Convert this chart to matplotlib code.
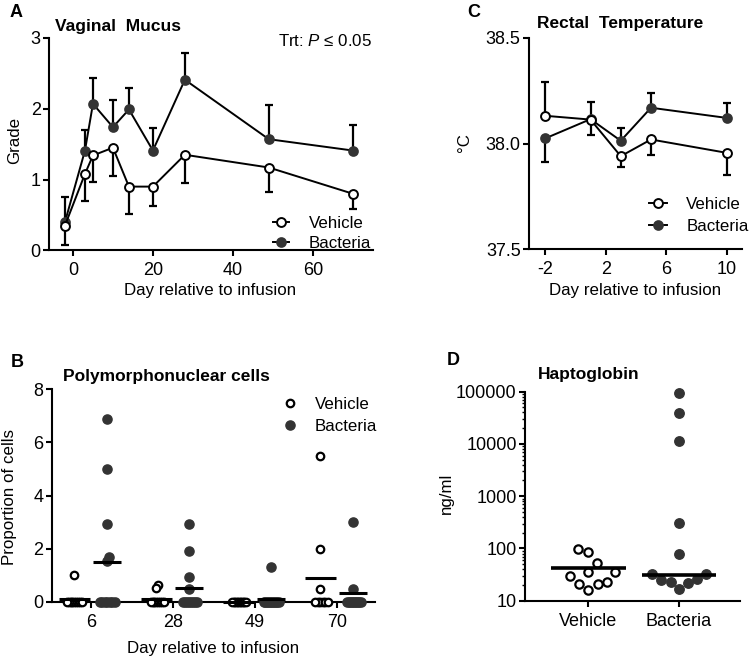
import numpy as np
import matplotlib
matplotlib.use('Agg')
import matplotlib.pyplot as plt
from matplotlib.lines import Line2D
from matplotlib.ticker import FixedLocator, LogLocator, NullFormatter, FuncFormatter

plt.rcParams['font.family'] = ['Liberation Sans', 'DejaVu Sans']
plt.rcParams['mathtext.fontset'] = 'custom'
plt.rcParams['mathtext.it'] = 'Liberation Sans:italic'
plt.rcParams['mathtext.rm'] = 'Liberation Sans'
plt.rcParams['axes.unicode_minus'] = False

# ---------------- data ----------------
# A: vaginal mucus grade
mucus_days = [-2, 3, 5, 10, 14, 20, 28, 49, 70]
mucus_vehicle = [0.35, 1.08, 1.34, 1.45, 0.90, 0.90, 1.35, 1.17, 0.80]
mucus_vehicle_err_low = [0.28, 0.38, 0.37, 0.40, 0.39, 0.28, 0.40, 0.35, 0.22]
mucus_bacteria = [0.40, 1.41, 2.07, 1.74, 1.99, 1.41, 2.41, 1.57, 1.41]
mucus_bacteria_err_high = [0.35, 0.29, 0.37, 0.38, 0.31, 0.32, 0.38, 0.49, 0.36]

# C: rectal temperature
temp_days = [-2, 1, 3, 5, 10]
temp_vehicle = [38.131, 38.113, 37.940, 38.019, 37.956]
temp_vehicle_err_low = [0.0, 0.074, 0.050, 0.071, 0.106]
temp_vehicle_err_high = [0.162, 0.0, 0.0, 0.0, 0.0]
temp_bacteria = [38.024, 38.115, 38.013, 38.169, 38.121]
temp_bacteria_err_low = [0.113, 0.0, 0.0, 0.0, 0.0]
temp_bacteria_err_high = [0.0, 0.082, 0.058, 0.070, 0.071]

# B: polymorphonuclear cells (proportion of cells)
pmn_days = ['6', '28', '49', '70']
pmn_vehicle = [
    [1.0, 0, 0, 0, 0, 0, 0, 0, 0, 0],
    [0.63, 0.5, 0, 0, 0, 0, 0, 0, 0, 0],
    [0, 0, 0, 0, 0, 0, 0, 0, 0, 0],
    [5.5, 1.98, 0.46, 0, 0, 0, 0, 0, 0],
]
pmn_bacteria = [
    [6.87, 5.0, 2.91, 1.70, 1.55, 0, 0, 0, 0, 0, 0, 0],
    [2.91, 1.92, 0.93, 0.46, 0, 0, 0, 0, 0, 0, 0, 0],
    [1.32, 0, 0, 0, 0, 0, 0, 0, 0, 0, 0, 0],
    [2.99, 0.46, 0, 0, 0, 0, 0, 0, 0, 0, 0, 0],
]
pmn_vehicle_line = [0.10, 0.11, 0.0, 0.88]
pmn_bacteria_line = [1.50, 0.53, 0.12, 0.31]

# D: haptoglobin (ng/ml)
hapto_groups = ['Vehicle', 'Bacteria']
hapto_vehicle = [52, 85.5, 96, 29.7, 35, 35, 15.8, 22.5, 20.9, 20.9]
hapto_bacteria = [95500, 39600, 11400, 303, 77, 26, 32, 17, 24.6, 22, 22.8, 32]
hapto_line = [41.5, 31]

# ---------------- styling ----------------
FILL = '#333333'
TICK_FS = 13
LAB_FS = 12.2
TITLE_FS = 12.5
W, H = 750, 660

fig = plt.figure(figsize=(7.5, 6.6), dpi=100)


def add_ax(left, top, right, bottom):
    return fig.add_axes([left / W, 1 - bottom / H, (right - left) / W, (bottom - top) / H])


def style(ax):
    for s in ['top', 'right']:
        ax.spines[s].set_visible(False)
    for s in ['left', 'bottom']:
        ax.spines[s].set_linewidth(1.5)
    ax.tick_params(direction='out', length=4.5, width=1.5, labelsize=TICK_FS, color='black')
    ax.tick_params(axis='y', pad=1.5)
    ax.tick_params(axis='x', pad=4)
    ax.patch.set_alpha(0)


def ftext(x, y, s, **kw):
    fig.text(x / W, 1 - y / H, s, **kw)


def swarm(ypix, d):
    order = np.argsort(ypix, kind='stable')
    placed = []
    offs = np.zeros(len(ypix))
    for i in order:
        y = ypix[i]
        cands = [0.0]
        for px, py in placed:
            dy = y - py
            if abs(dy) < d:
                dx = np.sqrt(d * d - dy * dy)
                cands += [px + dx, px - dx]
        cands.sort(key=abs)
        for c in cands:
            if all((c - px) ** 2 + (y - py) ** 2 >= d * d - 1e-6 for px, py in placed):
                offs[i] = c
                placed.append((c, y))
                break
    return offs


def swarm_plot(ax, center, vals, d, wmax, **kw):
    vals = np.asarray(vals, dtype=float)
    pts = ax.transData.transform(np.column_stack([np.full(len(vals), center), vals]))
    offs = swarm(pts[:, 1], d)
    m = np.max(np.abs(offs)) if len(offs) else 0
    if m > wmax:
        offs = offs * wmax / m
    ppu = ax.transData.transform((1, 1))[0] - ax.transData.transform((0, 1))[0]
    ax.plot(center + offs / ppu, vals, linestyle='none', clip_on=False, **kw)


# ---------------- Panel A ----------------
axA = add_ax(49, 38, 372.7, 250.3)
style(axA)
axA.set_xlim(-6, 75)
axA.set_ylim(0, 3)
axA.set_xticks([0, 20, 40, 60])
axA.set_yticks([0, 1, 2, 3])
axA.errorbar(mucus_days, mucus_bacteria, yerr=[np.zeros(len(mucus_days)), mucus_bacteria_err_high],
             fmt='none', ecolor='black', elinewidth=1.6, capsize=2.6, capthick=1.6, zorder=2, clip_on=False)
axA.plot(mucus_days, mucus_bacteria, color='black', lw=1.4, marker='o', ms=6.4, mfc=FILL, mec=FILL,
         mew=1.3, zorder=3, clip_on=False)
axA.errorbar(mucus_days, mucus_vehicle, yerr=[mucus_vehicle_err_low, np.zeros(len(mucus_days))],
             fmt='none', ecolor='black', elinewidth=1.6, capsize=2.6, capthick=1.6, zorder=4, clip_on=False)
axA.plot(mucus_days, mucus_vehicle, color='black', lw=1.4, marker='o', ms=6.4, mfc='white', mec='black',
         mew=1.4, zorder=5, clip_on=False)

h_veh = Line2D([], [], color='black', lw=1.4, marker='o', ms=6.4, mfc='white', mec='black', mew=1.4)
h_bac = Line2D([], [], color='black', lw=1.4, marker='o', ms=6.4, mfc=FILL, mec=FILL, mew=1.3)
axA.legend([h_veh, h_bac], ['Vehicle', 'Bacteria'], loc='center left', frameon=False,
           bbox_to_anchor=(273 / W, 1 - 233.5 / H), bbox_transform=fig.transFigure,
           borderpad=0, borderaxespad=0, handlelength=0.95, handletextpad=1.15,
           labelspacing=0.33, fontsize=LAB_FS)
ftext(372, 46.5, r'Trt: $\it{P}$ ≤ 0.05', ha='right', va='baseline', fontsize=12.2)
ftext(10, 16.7, 'A', fontsize=13, weight='bold', va='baseline')
ftext(55, 30.7, 'Vaginal  Mucus', fontsize=TITLE_FS, weight='bold', va='baseline')
ftext(15, 140, 'Grade', rotation=90, ha='center', va='center', fontsize=LAB_FS)
ftext(210.5, 291, 'Day relative to infusion', ha='center', va='center', fontsize=LAB_FS)

# ---------------- Panel C ----------------
axC = add_ax(529, 37.7, 742, 249.3)
style(axC)
axC.set_xlim(-3.07, 11.02)
axC.set_ylim(37.5, 38.5)
axC.set_xticks([-2, 2, 6, 10])
axC.set_yticks([37.5, 38.0, 38.5])
axC.yaxis.set_major_formatter(FuncFormatter(lambda v, p: f'{v:.1f}'))
axC.errorbar(temp_days, temp_bacteria, yerr=[temp_bacteria_err_low, temp_bacteria_err_high],
             fmt='none', ecolor='black', elinewidth=1.6, capsize=2.6, capthick=1.6, zorder=2)
axC.plot(temp_days, temp_bacteria, color='black', lw=1.4, marker='o', ms=6.4, mfc=FILL, mec=FILL,
         mew=1.3, zorder=3)
axC.errorbar(temp_days, temp_vehicle, yerr=[temp_vehicle_err_low, temp_vehicle_err_high],
             fmt='none', ecolor='black', elinewidth=1.6, capsize=2.6, capthick=1.6, zorder=4)
axC.plot(temp_days, temp_vehicle, color='black', lw=1.4, marker='o', ms=6.4, mfc='white', mec='black',
         mew=1.4, zorder=5)
axC.legend([h_veh, h_bac], ['Vehicle', 'Bacteria'], loc='center left', frameon=False,
           bbox_to_anchor=(649 / W, 1 - 215.5 / H), bbox_transform=fig.transFigure,
           borderpad=0, borderaxespad=0, handlelength=1.05, handletextpad=1.15,
           labelspacing=0.45, fontsize=LAB_FS)
ftext(467, 17, 'C', fontsize=13, weight='bold', va='baseline')
ftext(537, 28.3, 'Rectal  Temperature', fontsize=TITLE_FS, weight='bold', va='baseline')
ftext(464, 143, '°C', rotation=90, ha='center', va='center', fontsize=LAB_FS)
ftext(635, 291, 'Day relative to infusion', ha='center', va='center', fontsize=LAB_FS)

# ---------------- Panel B ----------------
axB = add_ax(51.7, 389.3, 375, 601.7)
style(axB)
axB.set_xlim(-0.476, 3.467)
axB.set_ylim(0, 8)
axB.set_xticks(range(len(pmn_days)))
axB.set_xticklabels(pmn_days)
axB.set_yticks([0, 2, 4, 6, 8])
fig.canvas.draw()
for i in range(len(pmn_days)):
    swarm_plot(axB, i - 0.2, pmn_vehicle[i], 7.0, 7.5, marker='o', ms=5.4, mfc='white', mec='black',
               mew=1.6, zorder=3)
    swarm_plot(axB, i + 0.2, pmn_bacteria[i], 7.0, 7.5, marker='o', ms=6.6, mfc=FILL, mec=FILL,
               mew=1.0, zorder=3)
    axB.hlines(pmn_vehicle_line[i], i - 0.2 - 0.19, i - 0.2 + 0.19, color='black', lw=2.2, zorder=4,
               clip_on=False)
    axB.hlines(pmn_bacteria_line[i], i + 0.2 - 0.17, i + 0.2 + 0.17, color='black', lw=2.2, zorder=4,
               clip_on=False)
hb_veh = Line2D([], [], linestyle='none', marker='o', ms=5.4, mfc='white', mec='black', mew=1.6)
hb_bac = Line2D([], [], linestyle='none', marker='o', ms=6.6, mfc=FILL, mec=FILL, mew=1.0)
axB.legend([hb_veh, hb_bac], ['Vehicle', 'Bacteria'], loc='center left', frameon=False,
           bbox_to_anchor=(282 / W, 1 - 415.5 / H), bbox_transform=fig.transFigure,
           borderpad=0, borderaxespad=0, handlelength=1.0, handletextpad=0.95,
           labelspacing=0.4, fontsize=LAB_FS)
ftext(11, 366.7, 'B', fontsize=13, weight='bold', va='baseline')
ftext(63, 381, 'Polymorphonuclear cells', fontsize=TITLE_FS, weight='bold', va='baseline')
ftext(9.5, 497, 'Proportion of cells', rotation=90, ha='center', va='center', fontsize=LAB_FS)
ftext(213, 648, 'Day relative to infusion', ha='center', va='center', fontsize=LAB_FS)

# ---------------- Panel D ----------------
axD = add_ax(525, 391.7, 740, 600.7)
style(axD)
axD.set_yscale('log')
axD.set_ylim(10, 100000)
axD.set_xlim(-0.698, 1.672)
axD.yaxis.set_major_locator(FixedLocator([10, 100, 1000, 10000, 100000]))
axD.yaxis.set_major_formatter(FuncFormatter(lambda v, p: f'{int(round(v))}'))
axD.yaxis.set_minor_locator(LogLocator(base=10, subs=np.arange(2, 10)))
axD.yaxis.set_minor_formatter(NullFormatter())
axD.tick_params(axis='y', which='minor', length=2.5, width=1.0)
axD.set_xticks(range(len(hapto_groups)))
axD.set_xticklabels(hapto_groups)
fig.canvas.draw()
swarm_plot(axD, 0, hapto_vehicle, 16.5, 27, marker='o', ms=6.0, mfc='white', mec='black', mew=1.6, zorder=3)
swarm_plot(axD, 1, hapto_bacteria, 15.0, 27, marker='o', ms=6.8, mfc=FILL, mec=FILL, mew=1.0, zorder=3)
for i, v in enumerate(hapto_line):
    axD.hlines(v, i - 0.41, i + 0.41, color='black', lw=2.6, zorder=4)
ftext(447, 365, 'D', fontsize=13, weight='bold', va='baseline')
ftext(538, 379.3, 'Haptoglobin', fontsize=TITLE_FS, weight='bold', va='baseline')
ftext(446.5, 493, 'ng/ml', rotation=90, ha='center', va='center', fontsize=LAB_FS)

fig.savefig('out.png', dpi=100)
